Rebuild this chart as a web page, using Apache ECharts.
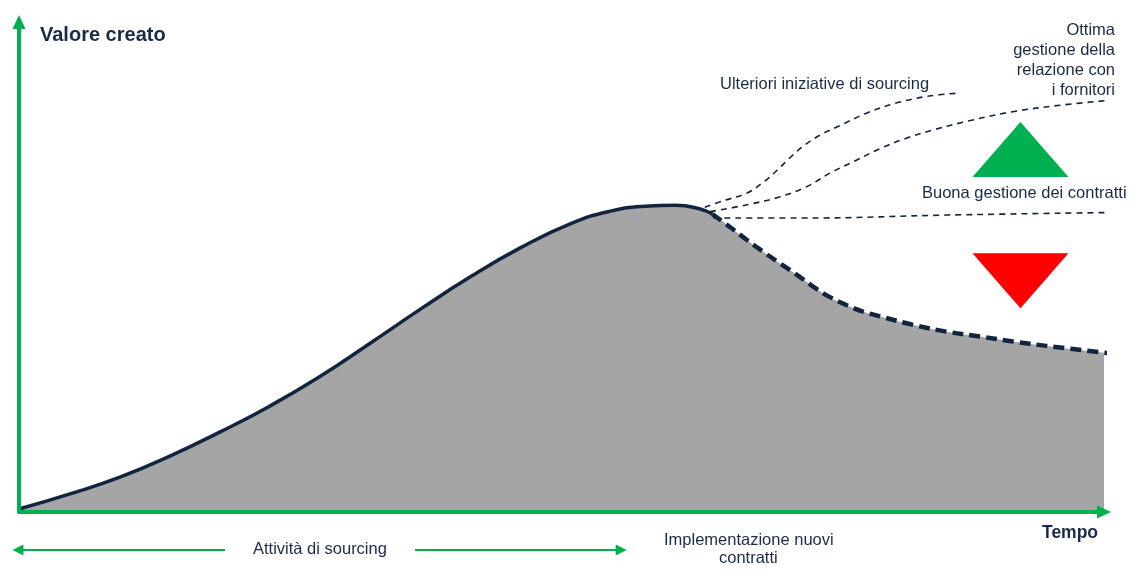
<!DOCTYPE html>
<html>
<head>
<meta charset="utf-8">
<script src="https://cdn.jsdelivr.net/npm/echarts@6/dist/echarts.min.js"></script>
<style>html,body{margin:0;padding:0;background:#fff}#c{width:1140px;height:579px}</style>
</head>
<body>
<div id="c"></div>
<script>
// Main value curve (sourcing + implementation)
const mainX = [0, 4.7, 9.3, 13.9, 18.5, 23.1, 27.7, 32.4, 37.0, 41.6, 46.2, 50.8, 54.5, 57.7, 60.5, 62.7, 63.9];
const mainY = [0.6, 3.7, 7.1, 11.4, 16.3, 21.6, 27.6, 34.5, 41.4, 48.0, 53.9, 58.8, 61.4, 62.4, 62.6, 61.9, 60.8];
// Gestione dei contratti non efficace
const declineX = [63.9, 65.5, 67.1, 68.6, 70.1, 71.7, 73.2, 74.7, 76.3, 77.8, 79.4, 82.4, 85.5, 88.6, 91.6, 94.7, 100.4];
const declineY = [60.8, 58.2, 55.5, 53.1, 50.8, 48.4, 46.0, 43.9, 42.2, 40.9, 39.9, 38.2, 36.8, 35.8, 34.8, 33.9, 32.4];
// Ulteriori iniziative di sourcing
const furtherX = [63.2, 64.9, 67.1, 68.6, 69.9, 71.1, 72.3, 73.8, 75.7, 78.1, 80.9, 83.9, 86.7];
const furtherY = [62.2, 63.5, 65.1, 67.3, 69.8, 72.4, 74.7, 76.9, 78.9, 81.4, 83.5, 84.9, 85.5];
// Ottima gestione della relazione con i fornitori
const optimalX = [63.7, 67.1, 70.1, 72.6, 74.7, 76.9, 79.4, 81.8, 84.3, 87.3, 91.6, 96.3, 101.0];
const optimalY = [61.3, 62.7, 64.3, 66.4, 69.1, 71.5, 74.2, 76.3, 78.0, 79.7, 81.7, 83.1, 84.1];
// Buona gestione dei contratti
const goodX = [64.0, 73.2, 85.5, 103.0];
const goodY = [60.0, 60.0, 60.6, 61.2];
// Triangle markers (up / down)
const upTri = [92.3, 74.0];
const downTri = [92.3, 47.2];
// Bottom phase arrows (from tail to head)
const phaseArrowY = -7.76;
const phaseArrow1 = [19.0, -0.1];
const phaseArrow2 = [36.5, 55.5];

const zip = (xs, ys) => xs.map((x, i) => [x, ys[i]]);
const fillData = zip(mainX, mainY).concat(zip(declineX, declineY).slice(1));

const NAVY = '#13243f';
const GREEN = '#00b050';
const GRAY = '#a5a5a5';
const TXT = '#1b2a47';
const FONT = '"Liberation Sans", Arial, sans-serif';
const F = '16.5px ' + FONT;
const SMOOTH = 0.5;

const axisCommon = {
  type: 'value', min: 0, max: 100, z: 10,
  axisLine: { show: true, onZero: false, symbol: ['none', 'triangle'], symbolSize: [13, 14], lineStyle: { color: GREEN, width: 4 } },
  axisTick: { show: false }, axisLabel: { show: false }, splitLine: { show: false }
};

const lineSeries = (data, width, type, z, smooth) => ({
  type: 'line', data, smooth: smooth || SMOOTH, clip: false, symbol: 'none', z,
  lineStyle: { color: NAVY, width, type }
});

const chart = echarts.init(document.getElementById('c'));
chart.setOption({
  animation: false,
  grid: { left: 19, right: 36, top: 22, bottom: 67 },
  xAxis: axisCommon,
  yAxis: axisCommon,
  series: [
    {
      type: 'line', data: fillData, smooth: SMOOTH, clip: false, symbol: 'none', z: 1,
      lineStyle: { width: 0, opacity: 0 },
      areaStyle: { color: GRAY, opacity: 1 }
    },
    lineSeries(zip(declineX, declineY), 4.5, [11, 6], 3, 0.35),
    lineSeries(zip(mainX, mainY), 3.5, 'solid', 4),
    lineSeries(zip(furtherX, furtherY), 1.6, [6, 5], 2, 0.35),
    lineSeries(zip(optimalX, optimalY), 1.6, [6, 5], 2, 0.35),
    lineSeries(zip(goodX, goodY), 1.6, [6, 5], 2, 0.35),
    {
      type: 'lines', coordinateSystem: 'cartesian2d', clip: false, silent: true, z: 6,
      symbol: ['none', 'triangle'], symbolSize: [9, 11],
      lineStyle: { color: GREEN, width: 2, opacity: 1, type: 'solid' },
      data: [
        { coords: [[phaseArrow1[0], phaseArrowY], [phaseArrow1[1], phaseArrowY]] },
        { coords: [[phaseArrow2[0], phaseArrowY], [phaseArrow2[1], phaseArrowY]] }
      ]
    },
    {
      type: 'scatter', clip: false, symbol: 'triangle', symbolSize: [96, 55], z: 5,
      data: [
        { value: upTri, itemStyle: { color: GREEN, opacity: 1 } },
        { value: downTri, symbolRotate: 180, itemStyle: { color: '#ff0000', opacity: 1 } }
      ]
    }
  ],
  graphic: [
    { type: 'text', left: 40, top: 25, style: { text: 'Valore creato', font: 'bold 20px ' + FONT, fill: TXT } },
    { type: 'text', left: 1042, top: 524, style: { text: 'Tempo', font: 'bold 17.5px ' + FONT, fill: TXT } },
    { type: 'text', left: 720, top: 76, style: { text: 'Ulteriori iniziative di sourcing', font: F, fill: TXT } },
    { type: 'text', right: 25, top: 21.5, style: { text: 'Ottima', font: F, fill: TXT } },
    { type: 'text', right: 25, top: 42, style: { text: 'gestione della', font: F, fill: TXT } },
    { type: 'text', right: 25, top: 62, style: { text: 'relazione con', font: F, fill: TXT } },
    { type: 'text', right: 25, top: 81.5, style: { text: 'i fornitori', font: F, fill: TXT } },
    { type: 'text', left: 922, top: 185, style: { text: 'Buona gestione dei contratti', font: F, fill: TXT } },
    { type: 'text', right: 48, top: 360, style: { text: 'Gestione dei contratti', font: F, fill: '#ffffff' } },
    { type: 'text', right: 48, top: 380, style: { text: 'non efficace', font: F, fill: '#ffffff' } },
    { type: 'text', left: 253, top: 541, style: { text: 'Attività di sourcing', font: F, fill: TXT } },
    { type: 'text', left: 664, top: 532, style: { text: 'Implementazione nuovi', font: F, fill: TXT } },
    { type: 'text', left: 719, top: 550, style: { text: 'contratti', font: F, fill: TXT } }
  ]
});
</script>
</body>
</html>
